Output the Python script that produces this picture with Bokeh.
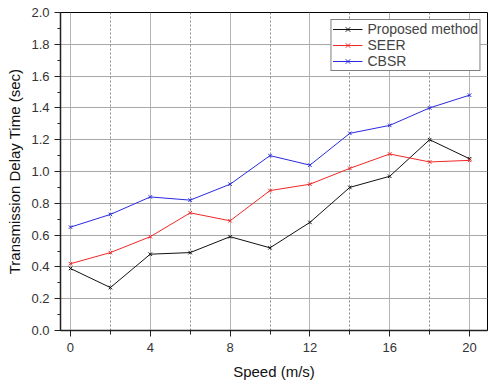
from bokeh.plotting import figure
from bokeh.models import FixedTicker, Legend, LegendItem, Range1d, CustomJSTickFormatter
from bokeh.embed import file_html
from bokeh.resources import INLINE

speed = [0, 2, 4, 6, 8, 10, 12, 14, 16, 18, 20]
proposed = [0.39, 0.27, 0.48, 0.49, 0.59, 0.52, 0.68, 0.90, 0.97, 1.20, 1.08]
seer = [0.42, 0.49, 0.59, 0.74, 0.69, 0.88, 0.92, 1.02, 1.11, 1.06, 1.07]
cbsr = [0.65, 0.73, 0.84, 0.82, 0.92, 1.10, 1.04, 1.24, 1.29, 1.40, 1.48]
x_ticks = [0, 4, 8, 12, 16, 20]
x_minor = [2, 6, 10, 14, 18]
y_ticks = [0.0, 0.2, 0.4, 0.6, 0.8, 1.0, 1.2, 1.4, 1.6, 1.8, 2.0]
y_minor = [0.1, 0.3, 0.5, 0.7, 0.9, 1.1, 1.3, 1.5, 1.7, 1.9]

FONT = "Liberation Sans"

p = figure(width=489, height=382, output_backend="svg", toolbar_location=None,
           x_range=Range1d(-0.5, 20.9), y_range=Range1d(0, 2.0),
           min_border_left=60, min_border_right=2, min_border_top=12, min_border_bottom=50)
p.background_fill_color = "white"
p.border_fill_color = "white"
p.outline_line_color = "black"
p.outline_line_width = 1

p.xaxis.ticker = FixedTicker(ticks=x_ticks, minor_ticks=x_minor)
p.yaxis.ticker = FixedTicker(ticks=y_ticks, minor_ticks=y_minor)
p.yaxis.formatter = CustomJSTickFormatter(code="return tick.toFixed(1);")
for ax in (p.xaxis[0], p.yaxis[0]):
    ax.axis_line_color = "#222222"
    ax.axis_line_width = 1.5
    ax.major_tick_line_color = "#222222"
    ax.minor_tick_line_color = "#222222"
    ax.major_tick_in = 0
    ax.major_tick_out = 6
    ax.minor_tick_in = 0
    ax.minor_tick_out = 3
    ax.major_label_text_font = FONT
    ax.major_label_text_font_size = "13px"
    ax.major_label_text_color = "#333333"
    ax.axis_label_text_font = FONT
    ax.axis_label_text_font_style = "normal"
    ax.axis_label_text_color = "#111111"
    ax.axis_label_text_font_size = "15px"
p.xaxis.minor_tick_out = 4
p.xaxis.major_label_standoff = 6
p.xaxis.axis_label = "Speed (m/s)"
p.xaxis.axis_label_standoff = 8
p.yaxis.axis_label = "Transmission Delay Time (sec)"
p.yaxis.axis_label_standoff = 5

p.xgrid.grid_line_color = "#b4b4b4"
p.xgrid.grid_line_width = 1
p.xgrid.minor_grid_line_color = "#888888"
p.xgrid.minor_grid_line_dash = "2 2"
p.ygrid.grid_line_color = "#a8a8a8"
p.ygrid.grid_line_width = 1

r1 = p.line(speed, proposed, line_color="#111111", line_width=1)
s1 = p.scatter(speed, proposed, marker="x", size=5, line_color="#111111", line_width=1)
r2 = p.line(speed, seer, line_color="#f02828", line_width=1)
s2 = p.scatter(speed, seer, marker="x", size=5, line_color="#f02828", line_width=1)
r3 = p.line(speed, cbsr, line_color="#2a2ae0", line_width=1)
s3 = p.scatter(speed, cbsr, marker="x", size=5, line_color="#2a2ae0", line_width=1)

legend = Legend(items=[
    LegendItem(label="Proposed method", renderers=[r1, s1]),
    LegendItem(label="SEER", renderers=[r2, s2]),
    LegendItem(label="CBSR", renderers=[r3, s3]),
], location="top_right")
legend.margin = 7
legend.padding = 1
legend.spacing = 0
legend.label_text_font = FONT
legend.label_text_font_size = "14px"
legend.label_height = 16
legend.glyph_height = 16
legend.glyph_width = 30
legend.label_standoff = 5
legend.border_line_color = "black"
legend.border_line_width = 1
legend.background_fill_alpha = 1
p.add_layout(legend)

open("out.html", "w").write(file_html(p, INLINE))
